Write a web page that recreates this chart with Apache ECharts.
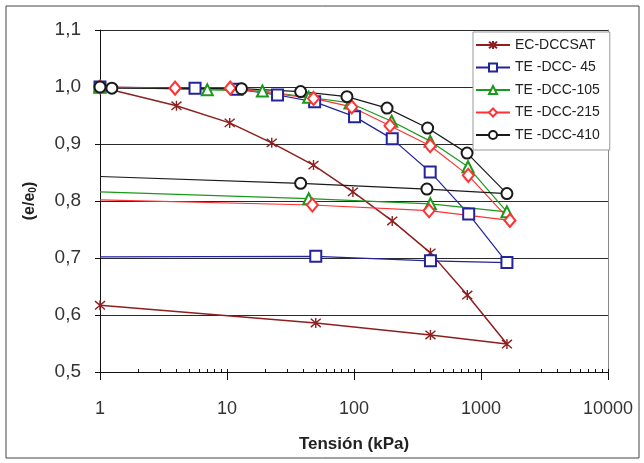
<!DOCTYPE html>
<html><head><meta charset="utf-8">
<script src="https://cdn.jsdelivr.net/npm/echarts@6/dist/echarts.min.js"></script>
<style>html,body{margin:0;padding:0;background:#fff}#c{width:644px;height:463px}</style>
</head><body><div id="c"></div>
<script>
// ---- data ----
const seriesNames = ['EC-DCCSAT', 'TE -DCC- 45', 'TE -DCC-105', 'TE -DCC-215', 'TE -DCC-410'];
const xTickLabels = ['1', '10', '100', '1000', '10000'];
const yTickLabels = ['0,5', '0,6', '0,7', '0,8', '0,9', '1,0', '1,1'];
const xMinorTicks = [2,3,4,5,6,7,8,9,20,30,40,50,60,70,80,90,200,300,400,500,600,700,800,900,2000,3000,4000,5000,6000,7000,8000,9000];

// EC-DCCSAT
const ecLoadP = [1, 4, 10.5, 22.5, 48, 98, 200, 400, 780, 1600];
const ecLoadV = [1.000, 0.967, 0.937, 0.902, 0.863, 0.816, 0.765, 0.709, 0.635, 0.549];
const ecUnlP = [400, 50, 1];
const ecUnlV = [0.565, 0.586, 0.617];
// TE-DCC-45
const t45LoadP = [1, 5.6, 12, 25, 49, 101, 200, 398, 800, 1600];
const t45LoadV = [1.000, 0.998, 0.996, 0.986, 0.974, 0.948, 0.909, 0.851, 0.777, 0.692];
const t45UnlP = [400, 50, 1];
const t45UnlV = [0.695, 0.703, 0.702];
// TE-DCC-105
const t105LoadP = [1, 7, 19, 44, 93, 198, 398, 790, 1600];
const t105LoadV = [1.000, 0.995, 0.993, 0.982, 0.972, 0.940, 0.905, 0.860, 0.781];
const t105UnlP = [400, 44, 1];
const t105UnlV = [0.795, 0.804, 0.816];
// TE-DCC-215
const t215LoadP = [1, 3.9, 10.6, 48, 96, 192, 398, 794, 1690];
const t215LoadV = [1.000, 0.998, 0.998, 0.980, 0.965, 0.932, 0.897, 0.845, 0.766];
const t215UnlP = [390, 47, 1];
const t215UnlV = [0.783, 0.793, 0.802];
// TE-DCC-410
const t410LoadP = [1, 1.24, 13, 38, 88, 182, 380, 777, 1600];
const t410LoadV = [1.000, 0.998, 0.997, 0.992, 0.983, 0.963, 0.928, 0.884, 0.813];
const t410UnlP = [375, 38, 1];
const t410UnlV = [0.821, 0.831, 0.843];

function build(lp, lv, up, uv, markEnd) {
  const d = lp.map((p, i) => [p, lv[i]]);
  up.forEach((p, i) => {
    const it = { value: [p, uv[i]] };
    if (i === up.length - 1 && !markEnd) it.symbol = 'none';
    d.push(it);
  });
  return d;
}

const FONT = "'Liberation Sans', Arial, sans-serif";
const asterisk = 'path://M0,0L10,10M10,0L0,10M5,-1L5,11';

function mkSeries(name, data, color, symbol, size, width) {
  const isPath = symbol.indexOf('path://') === 0;
  return {
    name: name, type: 'line', data: data, xAxisIndex: 0, yAxisIndex: 0,
    symbol: symbol, symbolSize: size, showSymbol: true,
    lineStyle: { color: color, width: width },
    itemStyle: isPath ? { color: 'rgba(0,0,0,0)', borderColor: color, borderWidth: 1.4 }
                      : { color: color, borderColor: color, borderWidth: 1.3 },
    emphasis: { disabled: true },
    animation: false
  };
}

const chart = echarts.init(document.getElementById('c'), null, { renderer: 'canvas' });
chart.setOption({
  backgroundColor: '#fff',
  animation: false,
  graphic: [{
    type: 'rect', shape: { x: 6, y: 6, width: 633, height: 452 },
    style: { fill: 'none', stroke: '#444', lineWidth: 1 }, silent: true, z: -1
  }],
  grid: { left: 100, right: 36, top: 30, bottom: 91, containLabel: false },
  legend: {
    data: seriesNames, orient: 'vertical', left: 473, top: 32,
    itemWidth: 34, itemHeight: 10, itemGap: 8.5,
    textStyle: { fontSize: 14, fontFamily: FONT, color: '#222', lineHeight: 14 },
    backgroundColor: '#fff', borderColor: '#999', borderWidth: 1, padding: [6, 10, 8, 2]
  },
  xAxis: [{
    type: 'log', min: 1, max: 10000, logBase: 10,
    axisLine: { show: true, lineStyle: { color: '#111', width: 1 } },
    axisTick: { show: true, inside: false, length: 8, lineStyle: { color: '#111' } },
    axisLabel: {
      fontSize: 18, fontFamily: FONT, color: '#333', margin: 28,
      formatter: v => xTickLabels[Math.round(Math.log10(v))]
    },
    splitLine: { show: false },
    name: 'Tensión (kPa)', nameLocation: 'middle', nameGap: 64,
    nameTextStyle: { fontSize: 17, fontWeight: 'bold', fontFamily: FONT, color: '#222' }
  }, {
    type: 'value', min: 0, max: 4, position: 'bottom', offset: 0,
    axisLine: { show: false }, axisLabel: { show: false }, splitLine: { show: false },
    axisTick: { show: true, inside: true, length: 3, lineStyle: { color: '#111' },
      customValues: [0, 1, 2, 3, 4].concat(xMinorTicks.map(v => Math.log10(v))) }
  }],
  yAxis: [{
    type: 'value', min: 0.5, max: 1.1, interval: 0.1,
    axisLine: { show: true, lineStyle: { color: '#111', width: 1 } },
    axisTick: { show: true, inside: false, length: 5, lineStyle: { color: '#111' } },
    axisLabel: {
      fontSize: 19, fontFamily: FONT, color: '#333', margin: 19,
      formatter: v => yTickLabels[Math.round((v - 0.5) * 10)]
    },
    splitLine: { show: true, lineStyle: { color: '#2a2a2a', width: 1 } },
    name: '(e/e{s|0})', nameLocation: 'middle', nameGap: 62, nameRotate: 90,
    nameTextStyle: { fontSize: 16, fontWeight: 'bold', fontFamily: FONT, color: '#222',
      rich: { s: { fontSize: 10, fontWeight: 'bold', fontFamily: FONT, color: '#222', padding: [0, 0, -7, 0] } } }
  }, {
    type: 'value', min: 0.5, max: 1.1, interval: 0.1, position: 'right',
    axisLine: { show: true, lineStyle: { color: '#888', width: 1 } },
    axisTick: { show: false }, axisLabel: { show: false }, splitLine: { show: false }
  }],
  series: [
    mkSeries(seriesNames[0], build(ecLoadP, ecLoadV, ecUnlP, ecUnlV, true), '#8e1f1f', asterisk, 10, 1.5),
    mkSeries(seriesNames[1], build(t45LoadP, t45LoadV, t45UnlP, t45UnlV, false), '#23239b', 'emptyRect', 11, 1.2),
    mkSeries(seriesNames[2], build(t105LoadP, t105LoadV, t105UnlP, t105UnlV, false), '#1a9a1a', 'emptyTriangle', 11, 1.2),
    mkSeries(seriesNames[3], build(t215LoadP, t215LoadV, t215UnlP, t215UnlV, false), '#ff3333', 'emptyDiamond', [11, 13], 1.2),
    mkSeries(seriesNames[4], build(t410LoadP, t410LoadV, t410UnlP, t410UnlV, false), '#1a1a1a', 'emptyCircle', 11, 1.2)
  ]
});
</script></body></html>
